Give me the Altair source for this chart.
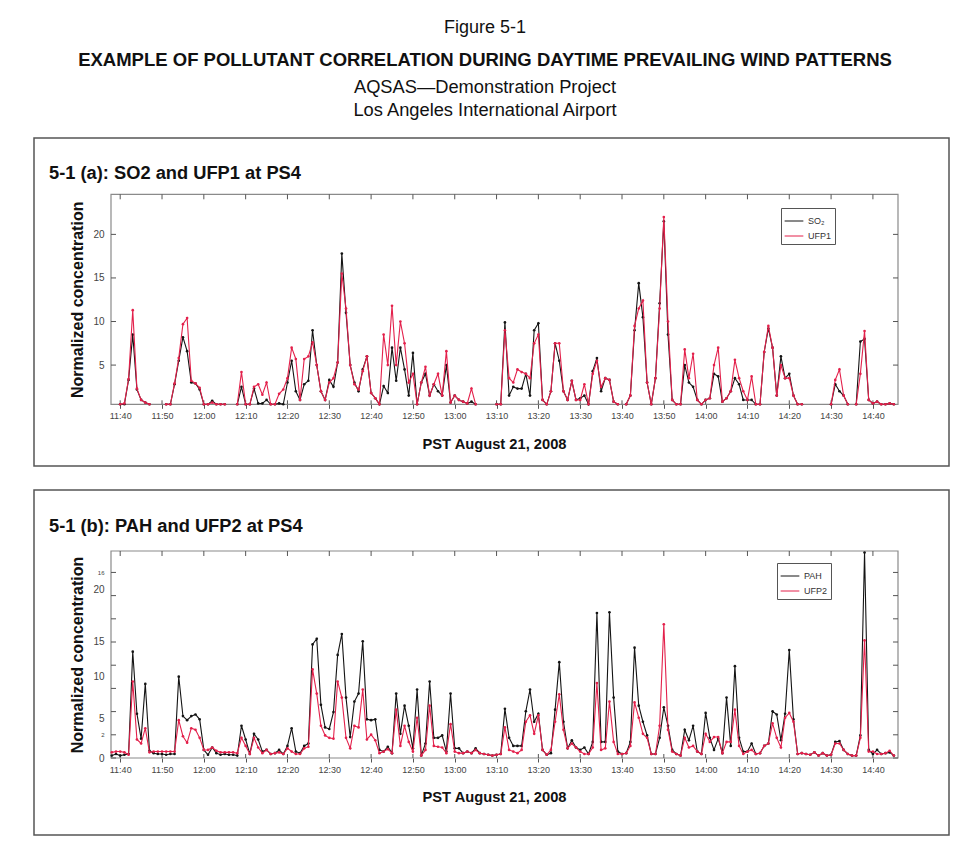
import altair as alt
import pandas as pd

# ---------------- data ----------------
tick_minutes = list(range(0, 181, 10))
tick_labels = ["11:40", "11:50", "12:00", "12:10", "12:20", "12:30", "12:40", "12:50",
               "13:00", "13:10", "13:20", "13:30", "13:40", "13:50", "14:00", "14:10",
               "14:20", "14:30", "14:40"]

minutes_a = list(range(0, 186))
N = None
so2 = [0.4, 0.5, 3.3, 8.5, 2.2, 1.0, 0.7, 0.3,
       N, N, N,
       0.3, 0.4, 2.8, 5.5, 8.2, 6.6, 3.0, 2.9, 2.2, 0.3, 0.3, 0.9, 0.5, 0.3, 0.2,
       N, N,
       0.4, 2.5, 0.3, 0.5, 2.3, 0.6, 0.6, 1.0, 0.5, 0.5, 0.6, 0.5,
       3.0, 5.5, 2.0, 1.0, 2.8, 3.2, 9.0, 5.0, 2.0, 1.0,
       3.3, 2.5, 5.3, 17.8, 11.0, 5.0, 3.0, 2.0, 4.5, 6.0,
       1.8, 1.2, 0.5, 2.6, 1.8, 7.0, 3.2, 7.0, 4.5, 1.5,
       6.4, 0.5, 3.0, 4.0, 1.5, 2.8, 2.0, 1.5, 5.0, 0.7,
       1.5, 1.0, 0.8, 0.6, 0.8, 0.4,
       N, N, N, N,
       0.4, 0.5, 9.9, 1.5, 2.5, 2.3, 2.3, 4.0, 1.5, 9.0,
       9.8, 1.0, 0.5, 2.0, 7.5, 5.5, 2.0, 1.0, 3.2, 1.0,
       1.2, 1.5, 0.5, 4.3, 5.8, 2.0, 3.5, 3.3, 0.8, 0.3,
       N,
       0.3, 1.5, 9.0, 14.4, 10.5, 3.0, 0.5, 3.5, 12.1,
       21.5, 8.5, 1.0, 0.3, 0.3, 5.0, 3.0, 2.5, 1.0, 0.5,
       1.0, 1.2, 4.0, 3.7, 0.8, 1.2, 2.0, 3.5, 2.8, 1.0,
       1.0, 1.0, 0.4, 0.3, 6.5, 9.2, 7.0, 1.5, 6.0, 3.5,
       4.0, 1.5, 0.5, 0.3,
       N, N, N, N, N, N,
       0.3, 2.8, 2.0, 1.5, 0.3,
       N,
       0.3, 7.7, 8.0, 1.0, 0.6, 0.8, 0.3, 0.3, 0.6, 0.3]
ufp1 = [0.4, 0.6, 3.4, 11.3, 2.3, 1.0, 0.7, 0.3,
        N, N, N,
        0.3, 0.5, 2.9, 5.8, 9.7, 10.4, 3.2, 2.9, 2.4, 0.5, 0.3, 0.7, 0.5, 0.3, 0.2,
        N, N,
        0.4, 4.2, 0.3, 0.5, 2.5, 2.8, 1.6, 3.0, 0.5, 0.5, 1.7, 2.2,
        3.5, 7.0, 5.7, 1.0, 5.7, 6.0, 7.6, 5.0, 2.0, 1.0,
        3.0, 3.5, 5.3, 15.5, 11.5, 5.0, 2.8, 2.2, 4.3, 6.0,
        1.8, 1.2, 0.5, 8.5, 5.0, 11.8, 5.0, 10.0, 7.5, 3.0,
        4.0, 0.5, 3.0, 4.8, 1.5, 2.8, 4.0, 1.5, 6.6, 0.7,
        1.5, 1.0, 0.8, 0.6, 2.3, 0.4,
        N, N, N, N,
        0.4, 0.5, 9.0, 3.5, 3.0, 4.5, 4.2, 4.0, 3.5, 7.5,
        8.5, 1.0, 0.5, 2.0, 7.5, 7.5, 2.0, 1.0, 3.2, 1.0,
        1.0, 2.8, 0.5, 4.0, 5.5, 2.5, 3.5, 3.3, 0.8, 0.3,
        N,
        0.3, 1.5, 9.5, 11.5, 12.4, 3.0, 0.5, 3.5, 11.5,
        22.0, 10.0, 1.0, 0.3, 0.3, 6.8, 3.5, 6.3, 1.0, 0.5,
        1.0, 1.2, 5.0, 7.0, 0.8, 1.2, 2.0, 5.6, 3.5, 2.0,
        1.0, 3.7, 0.4, 0.3, 6.5, 9.5, 7.0, 1.5, 5.0, 3.5,
        3.5, 1.5, 0.5, 0.3,
        N, N, N, N, N, N,
        0.3, 3.3, 4.5, 1.5, 0.3,
        N,
        0.3, 4.0, 8.9, 1.0, 0.6, 0.8, 0.3, 0.3, 0.6, 0.3]

minutes_b = list(range(-2, 186))
pah = [0.3, 0.5, 0.3, 0.4, 0.5, 13.2, 5.5, 2.4, 9.2, 0.9, 0.6, 0.5, 0.5, 0.4, 0.5, 0.5,
       10.1, 5.2, 4.7, 5.2, 5.4, 4.8, 1.0, 0.4, 1.3, 0.6, 0.4, 0.5, 0.4, 0.4, 0.3, 4.0,
       2.3, 0.5, 3.0, 2.3, 0.8, 1.0, 0.5, 0.6, 1.0, 0.5,
       1.5, 3.7, 0.8, 0.6, 1.5, 1.8, 14.1, 14.8, 6.6, 3.8,
       3.6, 5.7, 12.8, 15.4, 7.5, 2.6, 7.0, 8.0, 14.5, 4.8,
       4.7, 4.8, 1.0, 0.8, 1.4, 0.6, 8.0, 3.0, 6.5, 4.0,
       1.2, 8.5, 0.3, 1.8, 9.5, 2.5, 2.5, 2.8, 0.8, 8.0,
       1.2, 1.2, 0.6, 0.8, 0.6, 1.2, 0.6, 0.5, 0.4, 0.3,
       0.4, 0.5, 6.1, 2.5, 1.5, 1.5, 1.5, 5.8, 8.5, 4.5,
       5.5, 1.0, 0.4, 0.6, 6.0, 11.9, 4.5, 1.2, 2.2, 1.3,
       1.0, 1.3, 0.5, 2.0, 18.0, 2.0, 2.0, 18.1, 7.5, 0.8,
       0.5, 0.6, 2.0, 13.7, 6.5, 4.5, 2.8, 0.5, 0.5, 2.5,
       6.3, 4.0, 1.0, 0.5, 0.3, 3.5, 2.2, 4.0, 0.8, 0.5,
       5.6, 2.5, 1.0, 2.4, 0.6, 7.5, 1.5, 11.4, 2.5, 0.8,
       0.8, 1.8, 0.5, 0.6, 1.5, 1.8, 5.8, 5.4, 2.2, 5.5,
       13.4, 4.8, 0.5, 0.6, 0.5, 0.4, 0.7, 0.3, 0.6, 0.3,
       0.4, 2.0, 2.1, 1.0, 0.5, 0.3, 0.3, 2.8, 25.5, 1.0,
       0.5, 1.0, 0.5, 0.6, 0.7, 0.3]
ufp2 = [0.7, 0.8, 0.8, 0.7, 0.4, 9.5, 2.3, 1.8, 3.7, 0.7, 0.8, 0.8, 0.8, 0.8, 0.8, 0.8,
        4.7, 2.7, 1.9, 3.7, 3.5, 2.5, 1.0, 1.0, 1.3, 0.9, 0.7, 0.7, 0.7, 0.7, 0.6, 2.5,
        1.5, 0.5, 2.5, 1.3, 0.6, 1.0, 0.5, 0.6, 0.7, 0.5,
        1.2, 0.8, 0.5, 0.5, 1.2, 1.4, 11.0, 8.0, 4.0, 2.8,
        2.5, 2.4, 9.5, 7.5, 2.5, 1.2, 4.0, 3.8, 8.5, 2.3,
        2.9, 2.2, 0.6, 0.8, 1.1, 0.6, 6.0, 1.5, 4.0, 2.0,
        0.8, 5.0, 0.3, 1.0, 6.5, 1.5, 1.4, 1.3, 0.6, 4.2,
        0.8, 0.6, 0.6, 0.8, 0.6, 1.0, 0.6, 0.5, 0.4, 0.3,
        0.4, 0.5, 3.8, 1.0, 0.8, 0.6, 1.0, 4.5, 5.3, 3.0,
        5.3, 1.0, 0.4, 1.0, 4.5, 7.9, 3.5, 1.2, 1.8, 1.3,
        0.8, 0.5, 0.5, 1.3, 9.3, 1.0, 1.2, 7.0, 2.0, 0.5,
        0.5, 0.6, 1.5, 6.9, 5.0, 3.0, 2.5, 0.5, 0.5, 4.0,
        16.6, 3.5, 0.8, 0.5, 0.3, 2.5, 1.3, 1.5, 0.8, 0.5,
        3.0, 2.0, 2.6, 2.6, 0.6, 2.0, 2.0, 6.0, 1.5, 0.5,
        0.8, 1.0, 0.5, 0.6, 1.5, 1.8, 4.3, 2.5, 1.3, 5.0,
        5.6, 4.5, 0.5, 0.6, 0.5, 0.4, 0.7, 0.3, 0.6, 0.3,
        0.4, 1.8, 1.8, 1.0, 0.5, 0.3, 0.3, 2.5, 14.6, 0.8,
        0.8, 0.5, 0.5, 0.6, 0.9, 0.3]

# axis tick values
ytick_a = [5, 10, 15, 20]
ytick_b = [0, 2.88, 5.76, 8.64, 11.52, 14.4, 17.28, 20.16, 23.04]
ylab_pos_b = [0, 2.88, 4.9, 10.1, 14.5, 20.9, 23.04]
ylab_txt_b = ["0", "2", "5", "10", "15", "20", "16"]
ylab_small_b = [2.88, 23.04]

fig_label = "Figure 5-1"
main_title = "EXAMPLE OF POLLUTANT CORRELATION DURING DAYTIME PREVAILING WIND PATTERNS"
sub1 = "AQSAS\u2014Demonstration Project"
sub2 = "Los Angeles International Airport"
title_a = "5-1 (a): SO2 and UFP1 at PS4"
title_b = "5-1 (b): PAH and UFP2 at PS4"
names_a = ["SO\u2082", "UFP1"]
names_b = ["PAH", "UFP2"]
x_title = "PST August 21, 2008"
y_title = "Normalized concentration"

# ---------------- layout (one canvas, origin at page x=33, y=8) ----------------
FONT = "Liberation Sans"
BLACK = "#141414"
RED = "#e3204b"
TICK = "#555555"
FRAME = "#8a8a8a"
TW, TH = 915, 832
PL, PR = 77, 864                 # plot left / right
A_TOP, A_BOT = 186.3, 396.3      # panel (a) plot top / bottom
B_TOP, B_BOT = 543, 750          # panel (b) plot top / bottom
BOX_A = (130, 458)
BOX_B = (482, 827)


def long_df(minutes, series):
    rows = []
    for name, vals in series:
        seg = 0
        for m, v in zip(minutes, vals):
            if v is None:
                seg += 1
                continue
            rows.append({"minute": m, "value": v, "series": name, "seg": seg})
    return pd.DataFrame(rows)


one = pd.DataFrame({"k": [0]})
x_label_expr = "[" + ",".join("'%s'" % s for s in tick_labels) + "][round(datum.value/10)]"


def panel(df, names, top, bot, y_domain, y_axis_kw, ytick_vals, title, title_y, box, leg_x, leg_y, xt_pad):
    x_axis = alt.Axis(values=tick_minutes, labelExpr=x_label_expr, grid=False, domain=False,
                      orient="bottom", offset=-(TH - bot),
                      tickSize=4, tickColor=TICK, labelFontSize=9, labelColor="#444",
                      labelPadding=3, title=x_title, titleFontSize=14.7, titleFontWeight="bold",
                      titlePadding=xt_pad, titleColor="#111", titleX=460)
    y_axis = alt.Axis(grid=False, domain=False, tickSize=0, orient="left", offset=-PL,
                      labelPadding=7, labelColor="#444", title=y_title, titleFontSize=16,
                      titleFontWeight="bold", titlePadding=7, titleColor="#111", **y_axis_kw)
    X = alt.X("minute:Q", scale=alt.Scale(domain=[-2.2, 186], range=[PL, PR], nice=False, zero=False),
              axis=x_axis)
    Y = alt.Y("value:Q", scale=alt.Scale(domain=y_domain, range=[bot, top], nice=False, zero=False,
                                         clamp=True), axis=y_axis)
    color = alt.Color("series:N", scale=alt.Scale(domain=names, range=[BLACK, RED]),
                      legend=alt.Legend(title=None, orient="none", legendX=leg_x, legendY=leg_y,
                                        strokeColor="#555", fillColor="white", padding=3,
                                        symbolType="stroke", symbolStrokeWidth=1, symbolSize=350,
                                        labelFontSize=9, labelColor="#333", rowPadding=0))
    layers = []
    layers.append(alt.Chart(one).mark_rect(fill="transparent", stroke="#555", strokeWidth=1.5)
                  .encode(x=alt.value(0), x2=alt.value(TW), y=alt.value(box[0]), y2=alt.value(box[1])))
    layers.append(alt.Chart(one).mark_rect(fill="transparent", stroke=FRAME, strokeWidth=1.2)
                  .encode(x=alt.value(PL), x2=alt.value(PR), y=alt.value(top), y2=alt.value(bot)))
    layers.append(alt.Chart(one).mark_text(align="left", baseline="middle", fontSize=18.3, fontWeight="bold",
                                           color="#111", font=FONT)
                  .encode(x=alt.value(15), y=alt.value(title_y), text=alt.value(title)))
    xt = pd.DataFrame({"minute": tick_minutes})
    yt = pd.DataFrame({"value": ytick_vals})
    layers.append(alt.Chart(xt).mark_rule(color=TICK).encode(x=X, y=alt.value(top), y2=alt.value(top + 5)))
    layers.append(alt.Chart(xt).mark_rule(color=TICK).encode(x=X, y=alt.value(bot - 4), y2=alt.value(bot)))
    layers.append(alt.Chart(yt).mark_rule(color=TICK).encode(y=Y, x=alt.value(PL), x2=alt.value(PL + 5)))
    layers.append(alt.Chart(yt).mark_rule(color=TICK).encode(y=Y, x=alt.value(PR - 5), x2=alt.value(PR)))
    for nm in names:
        base = alt.Chart(df).transform_filter(alt.datum.series == nm)
        layers.append(base.mark_line(strokeWidth=1.1).encode(x=X, y=Y, color=color, detail="seg:N"))
        layers.append(base.mark_point(filled=True, size=7, opacity=1).encode(x=X, y=Y, color=color))
    return alt.layer(*layers)


df_a = long_df(minutes_a, [(names_a[0], so2), (names_a[1], ufp1)])
df_b = long_df(minutes_b, [(names_b[0], pah), (names_b[1], ufp2)])

lab_expr_b = ""
for p, t in zip(ylab_pos_b, ylab_txt_b):
    lab_expr_b += "abs(datum.value - %s) < 0.01 ? '%s' : " % (p, t)
lab_expr_b += "''"
small_test = " || ".join("abs(datum.value - %s) < 0.01" % p for p in ylab_small_b)

panel_a = panel(df_a, names_a, A_TOP, A_BOT, [0.5, 24.6],
                dict(values=ytick_a, labelFontSize=10),
                ytick_a, title_a, 166, BOX_A, 747, 200, 16)
panel_b = panel(df_b, names_b, B_TOP, B_BOT, [0, 25.7],
                dict(values=ylab_pos_b, labelExpr=lab_expr_b,
                     labelFontSize={"condition": {"test": small_test, "value": 6}, "value": 10}),
                ytick_b, title_b, 519, BOX_B, 743, 555, 15)

header_layers = []
for txt, yy, fs, fw in [(fig_label, 20, 18, "normal"), (main_title, 52, 18.5, "bold"),
                        (sub1, 80, 18.3, "normal"), (sub2, 103, 18.3, "normal")]:
    header_layers.append(alt.Chart(one).mark_text(align="center", baseline="middle", fontSize=fs,
                                                  fontWeight=fw, color="#111", font=FONT)
                         .encode(x=alt.value(451), y=alt.value(yy), text=alt.value(txt)))

chart = alt.layer(*header_layers, panel_a, panel_b).resolve_scale(
    x="independent", y="independent", color="independent"
).resolve_axis(x="independent", y="independent").resolve_legend(color="independent").properties(
    width=TW, height=TH, padding={"left": 25, "top": 0, "right": 5, "bottom": 0},
    view=alt.ViewBackground(stroke="transparent")
).configure(font=FONT).configure_legend(labelFont=FONT)

chart.save("out.html", embed_options={"renderer": "svg", "actions": False})
